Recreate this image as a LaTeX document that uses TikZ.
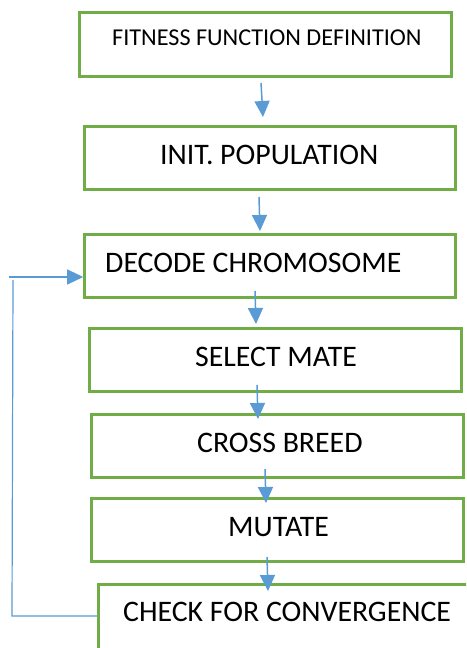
\documentclass[tikz,border=0pt]{standalone}
\usepackage{fontspec}
\setmainfont{Carlito}
\usetikzlibrary{arrows.meta}
\definecolor{boxgreen}{HTML}{70AD47}
\definecolor{flowblue}{HTML}{5B9BD5}
\tikzset{
  stage/.style={draw=boxgreen, line width=2.6pt, fill=white, rectangle, inner sep=0pt},
  caption/.style={anchor=base west, inner sep=0pt, font=\fontsize{29.8}{33}\selectfont, text=black},
  flow/.style={draw=flowblue, line width=1.5pt, -{Triangle[length=16pt,width=15pt]}},
  loopline/.style={draw=flowblue, line width=1.2pt}
}
\begin{document}
\begin{tikzpicture}[x=1pt,y=-1pt]
\clip (0,0) rectangle (466,648);
\fill[white] (0,0) rectangle (466,648);

% stage boxes
\node[stage, minimum width=372pt, minimum height=64pt] (b1) at (265.5,44.5) {};
\node[stage, minimum width=371pt, minimum height=63pt] (b2) at (270,158) {};
\node[stage, minimum width=371pt, minimum height=63pt] (b3) at (270,266) {};
\node[stage, minimum width=372pt, minimum height=63pt] (b4) at (275.5,360) {};
\node[stage, minimum width=372pt, minimum height=63pt] (b5) at (277.5,446) {};
\node[stage, minimum width=372pt, minimum height=63pt] (b6) at (277.5,530) {};
\node[stage, minimum width=372pt, minimum height=76pt] (b7) at (284.5,622.5) {};

% captions
\node[caption, font=\fontsize{24.2}{27}\selectfont] (t1) at (112,45) {FITNESS FUNCTION DEFINITION};
\node[caption] (t2) at (160,164.5) {INIT. POPULATION};
\node[caption] (t3) at (105,272.5) {DECODE CHROMOSOME};
\node[caption] (t4) at (195,366.5) {SELECT MATE};
\node[caption] (t5) at (197,452.5) {CROSS BREED};
\node[caption] (t6) at (228,536.5) {MUTATE};
\node[caption] (t7) at (123,621.5) {CHECK FOR CONVERGENCE};

% arrow end points between the stages
\coordinate (a1s) at (261,83);  \coordinate (a1e) at (263,117);
\coordinate (a2s) at (259,197); \coordinate (a2e) at (260,231);
\coordinate (a3s) at (255,291); \coordinate (a3e) at (256,324);
\coordinate (a4s) at (257,385); \coordinate (a4e) at (258,419);
\coordinate (a5s) at (265,469); \coordinate (a5e) at (266,503);
\coordinate (a6s) at (267,557); \coordinate (a6e) at (268,591);

\draw[flow] (a1s) -- (a1e);
\draw[flow] (a2s) -- (a2e);
\draw[flow] (a3s) -- (a3e);
\draw[flow] (a4s) -- (a4e);
\draw[flow] (a5s) -- (a5e);
\draw[flow] (a6s) -- (a6e);

% loop back from the convergence check to decoding
\coordinate (lb) at (12,616);
\coordinate (lt) at (13,280);
\coordinate (ls) at (9,277);
\draw[loopline] (b7.west |- lb) -- (lb) -- (lt);
\draw[flow, line width=1.2pt] (ls) -- (ls -| b3.west);
\end{tikzpicture}
\end{document}
